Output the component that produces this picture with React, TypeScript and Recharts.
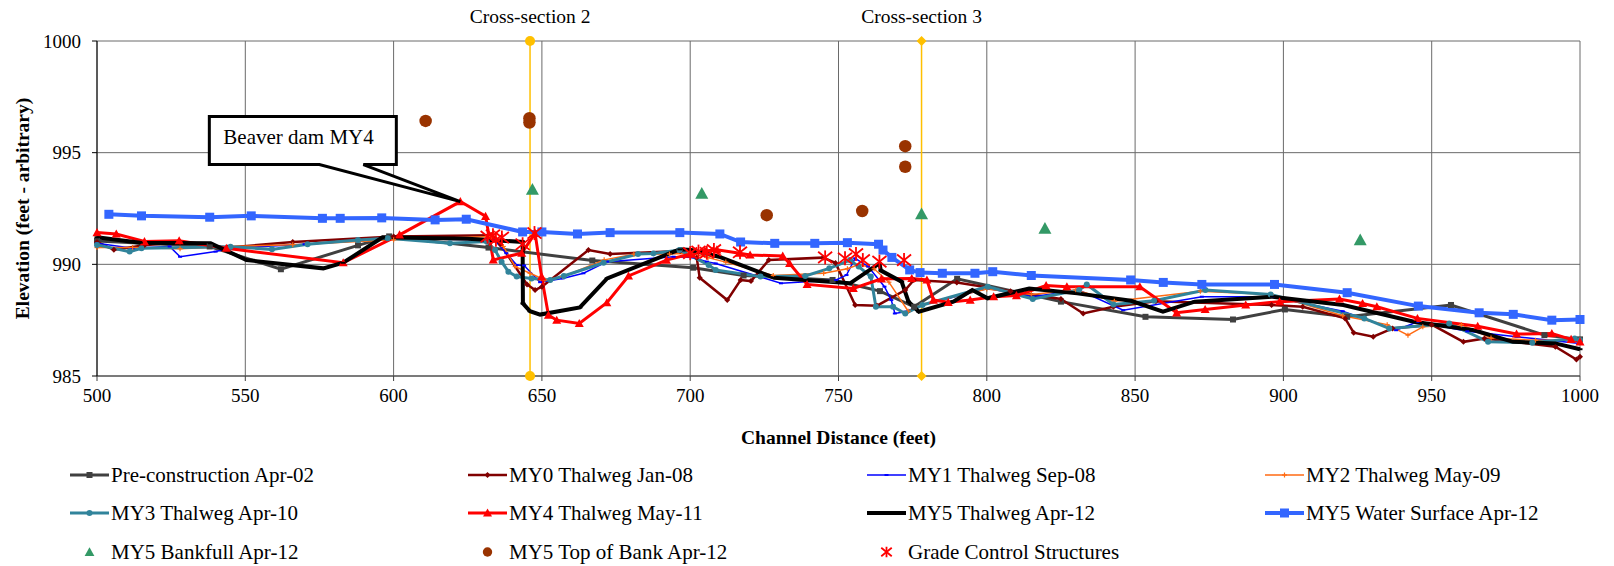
import React from 'react';
import {
  ComposedChart, Line, Scatter, XAxis, YAxis, CartesianGrid, ReferenceLine, ReferenceDot,
} from 'recharts';

const FONT = '"Liberation Serif", "Times New Roman", serif';

type Pair = [number, number];

// axis ticks
const xTicks = [500, 550, 600, 650, 700, 750, 800, 850, 900, 950, 1000];
const yTicks = [985, 990, 995, 1000];

// [channel distance, elevation]
const preConstruction: Pair[] = [
  [500, 991.05], [538, 990.8], [562, 989.78], [588, 990.85], [598.5, 991.25], [632, 990.75],
  [667, 990.17], [701, 989.85], [718, 989.5], [748, 989.3], [764, 988.8], [775.5, 988.1],
  [790, 989.35], [825, 988.33], [853.5, 987.65], [883, 987.53], [900.5, 987.98], [921.5, 987.65],
  [956.5, 988.18], [988, 986.83], [1000, 986.64],
];

const my0: Pair[] = [
  [500, 991.0], [505.7, 990.65], [516, 990.85], [528, 991.0], [544, 990.75], [566, 991.0],
  [600, 991.25], [633, 991.3], [636, 990.9], [645, 989.1], [647.7, 988.85], [650, 989.0],
  [665.7, 990.64], [673, 990.46], [696.6, 990.6], [702.2, 990.3], [703.2, 989.4], [712.5, 988.4],
  [717, 989.3], [720.5, 989.25], [726.5, 990.19], [744.8, 990.3], [749, 990.06], [755.6, 988.18],
  [763, 988.15], [772.5, 988.85], [775.4, 989.3], [789.9, 989.19], [808, 988.8], [825, 988.45],
  [832.5, 987.8], [842.7, 988.1], [857, 988.35], [896, 988.18], [906.5, 988.1], [920.8, 987.58],
  [923.7, 986.94], [930.3, 986.76], [936.8, 987.13], [950, 987.3], [960.7, 986.53], [967.8, 986.68],
  [991.7, 986.31], [998.8, 985.74], [1000, 985.86],
];

const my1: Pair[] = [
  [500, 990.94], [512, 990.72], [524.5, 990.8], [528, 990.34], [540, 990.57], [545, 990.72],
  [570, 990.9], [598, 991.15], [634, 991.1], [638, 990.5], [641.5, 989.97], [644, 989.95],
  [649.4, 989.2], [657, 989.37], [664, 989.6], [672, 990.12], [694.4, 990.34], [701, 990.31],
  [705.6, 990.12], [708.6, 990.04], [730.6, 989.15], [749.2, 989.3], [752.7, 989.52], [755.6, 990.27],
  [760, 989.9], [765.5, 989.0], [767.8, 988.4], [769, 987.8], [772.5, 987.88], [778.3, 988.18],
  [800.3, 988.92], [815.5, 988.55], [831, 988.85], [846, 987.95], [872.5, 988.55], [896.3, 988.55],
  [920, 987.9], [938, 987.05], [945.2, 987.43], [962, 987.0], [978.6, 986.76], [1000, 986.46],
];

const my2: Pair[] = [
  [500, 990.75], [512, 990.75], [528, 990.7], [545, 990.8], [566, 990.88], [600, 991.1],
  [633, 991.25], [637, 990.8], [641, 989.9], [646, 989.6], [651, 989.3], [657, 989.45],
  [671, 990.2], [681, 990.45], [693, 990.46], [700, 990.5], [706, 990.3], [712, 990.1],
  [728, 989.5], [745, 989.6], [753, 989.8], [757, 990.0], [762, 989.8], [767, 989.2],
  [773.5, 987.9], [778, 988.2], [800, 988.9], [815, 988.65], [830, 988.85], [843, 988.35],
  [872, 988.8], [896, 988.65], [920, 987.7], [935, 987.3], [942, 986.83], [947, 987.2],
  [960, 987.3], [970, 986.7], [985, 986.6], [1000, 986.6],
];

const my3: Pair[] = [
  [500, 990.87], [511, 990.57], [515, 990.72], [545, 990.79], [559, 990.67], [571, 990.9],
  [588, 991.09], [598, 991.17], [619, 990.94], [631.4, 991.02], [634.2, 990.64], [636.4, 990.12],
  [638.7, 989.67], [641.5, 989.45], [646.5, 989.37], [652.8, 989.3], [657.4, 989.48], [670.8, 990.07],
  [682.4, 990.46], [687.6, 990.49], [696.4, 990.64], [706.2, 989.97], [708.6, 989.75], [723.7, 989.45],
  [738.8, 989.48], [746.9, 989.82], [753.9, 990.19], [756.8, 989.9], [760.9, 989.45], [762.6, 988.1],
  [768.4, 988.1], [772.5, 987.8], [778.3, 988.18], [800.3, 989.0], [815.5, 988.45], [831.1, 988.85],
  [833.7, 989.1], [842.7, 988.2], [856.4, 988.37], [873.7, 988.85], [895.7, 988.65], [927.3, 987.58],
  [935.7, 987.13], [955.9, 987.35], [969, 986.53], [983.9, 986.49], [998.2, 986.68], [1000, 986.6],
];

const my4: Pair[] = [
  [500, 991.42], [506.5, 991.36], [516, 991.02], [527.7, 991.06], [543.6, 990.72], [583, 990.07],
  [602, 991.32], [622.5, 992.81], [631, 992.15], [633.6, 990.2], [643.2, 990.5], [647.7, 991.39],
  [649.9, 989.45], [652.2, 987.73], [655, 987.5], [662.6, 987.35], [671.9, 988.28], [679.2, 989.48],
  [692, 990.19], [700, 990.46], [705, 990.6], [709, 990.65], [716.7, 990.5], [720.2, 990.42],
  [731.2, 990.37], [733.5, 990.04], [739.4, 989.1], [755, 988.92], [764.5, 989.35], [774.7, 989.37],
  [779.8, 989.3], [782, 988.4], [787, 988.3], [794.4, 988.4], [802.3, 988.55], [810, 988.6],
  [820, 989.05], [827, 989.0], [851.6, 989.0], [864, 987.83], [873.6, 987.98], [887.3, 988.18],
  [898.7, 988.33], [918.9, 988.45], [926.7, 988.25], [931.5, 988.1], [945.2, 987.58], [965.5, 987.23],
  [978.6, 986.88], [990.5, 986.9], [997, 986.64], [1000, 986.53],
];

const my5: Pair[] = [
  [500, 991.21], [514.6, 990.97], [538.3, 990.94], [550.4, 990.19], [576.3, 989.82], [583, 990.07],
  [596.3, 991.21], [625, 991.15], [643.5, 991.0], [643.6, 988.25], [646, 987.9], [649.4, 987.75],
  [662.8, 988.07], [672, 989.37], [696.5, 990.67], [700.4, 990.64], [709.7, 990.34], [728.3, 989.4],
  [753.9, 989.15], [763.8, 990.04], [764.3, 989.72], [771.3, 989.22], [773.6, 988.33], [777.1, 987.88],
  [788.7, 988.33], [795.1, 988.85], [800.3, 988.48], [814.3, 988.92], [830.5, 988.7], [848.6, 988.37],
  [859.4, 987.88], [870.1, 988.33], [896.3, 988.55], [920.2, 988.18], [944, 987.43], [964.3, 987.05],
  [977.4, 986.53], [991.7, 986.46], [1000, 986.2],
];

const waterSurface: Pair[] = [
  [504, 992.24], [515, 992.17], [538, 992.11], [552, 992.17], [576, 992.06], [582, 992.06],
  [596, 992.08], [614, 991.99], [624.5, 992.02], [643.5, 991.45], [650, 991.45], [662, 991.36],
  [673, 991.42], [696.5, 991.42], [710, 991.36], [717, 991.0], [728.5, 990.94], [742, 990.94],
  [753, 990.97], [763.5, 990.9], [765, 990.64], [768, 990.31], [774, 989.75], [777.5, 989.63],
  [785, 989.6], [796, 989.6], [802, 989.67], [815, 989.5], [848.5, 989.3], [859.5, 989.19],
  [872.5, 989.1], [897, 989.1], [921.5, 988.73], [945.5, 988.13], [966, 987.83], [977.5, 987.76],
  [990.5, 987.5], [1000, 987.53],
];

const bankfull: Pair[] = [
  [646.8, 993.35], [703.9, 993.17], [778, 992.25], [819.6, 991.6], [925.9, 991.09],
];

const topOfBank: Pair[] = [
  [610.8, 996.42], [645.8, 996.54], [645.8, 996.35], [725.8, 992.2], [758, 992.39],
  [772.5, 995.29], [772.5, 994.37],
];

const gradeControl: Pair[] = [
  [631.7, 991.24], [633.5, 991.3], [634.5, 991.1], [636.5, 991.2], [643.5, 990.9], [647.5, 991.4],
  [700, 990.5], [702.8, 990.57], [705.6, 990.52], [708, 990.64], [716.8, 990.54], [745.5, 990.31],
  [752.2, 990.27], [755.9, 990.46], [758.2, 990.19], [763.8, 990.12], [772.1, 990.19],
];

// cross-section stations and beaver dam peak
const crossSection2: Pair[] = [[646, 985], [646, 1000]];
const crossSection3: Pair[] = [[778, 985], [778, 1000]];
const beaverDam: Pair = [622.5, 992.81];

const toPts = (arr: Pair[]) => arr.map(([x, y]) => ({ x, y }));

type MarkerKind = 'square' | 'diamond' | 'dash' | 'plus' | 'circle' | 'triangle' | 'star' | 'none';

function drawMarker(kind: MarkerKind, cx: number, cy: number, size: number, color: string, key?: string) {
  const h = size / 2;
  if (cx == null || cy == null || isNaN(cx) || isNaN(cy)) return <g key={key} />;
  switch (kind) {
    case 'square':
      return <rect key={key} x={cx - h} y={cy - h} width={size} height={size} fill={color} />;
    case 'diamond':
      return <path key={key} d={`M${cx},${cy - h}L${cx + h},${cy}L${cx},${cy + h}L${cx - h},${cy}Z`} fill={color} />;
    case 'triangle':
      return <path key={key} d={`M${cx},${cy - h}L${cx + h},${cy + h * 0.8}L${cx - h},${cy + h * 0.8}Z`} fill={color} />;
    case 'circle':
      return <circle key={key} cx={cx} cy={cy} r={h} fill={color} />;
    case 'dash':
      return <line key={key} x1={cx - h} y1={cy} x2={cx + h} y2={cy} stroke={color} strokeWidth={2} />;
    case 'plus':
      return (
        <g key={key} stroke={color} strokeWidth={1.2}>
          <line x1={cx - h} y1={cy} x2={cx + h} y2={cy} />
          <line x1={cx} y1={cy - h} x2={cx} y2={cy + h} />
        </g>
      );
    case 'star':
      return (
        <g key={key} stroke={color} strokeWidth={1.8}>
          <line x1={cx} y1={cy - h} x2={cx} y2={cy + h} />
          <line x1={cx - h} y1={cy - h * 0.8} x2={cx + h} y2={cy + h * 0.8} />
          <line x1={cx - h} y1={cy + h * 0.8} x2={cx + h} y2={cy - h * 0.8} />
        </g>
      );
    default:
      return <g key={key} />;
  }
}

interface LineSeries { name: string; data: Pair[]; color: string; width: number; marker: MarkerKind; size: number }
interface PointSeries { name: string; data: Pair[]; color: string; marker: MarkerKind; size: number }

const lineSeries: LineSeries[] = [
  { name: 'Pre-construction Apr-02', data: preConstruction, color: '#404040', width: 3, marker: 'square', size: 6 },
  { name: 'MY0 Thalweg Jan-08', data: my0, color: '#800000', width: 2.5, marker: 'diamond', size: 6 },
  { name: 'MY1 Thalweg Sep-08', data: my1, color: '#0000FF', width: 1.5, marker: 'dash', size: 4 },
  { name: 'MY2 Thalweg May-09', data: my2, color: '#FF6A13', width: 1.5, marker: 'plus', size: 5 },
  { name: 'MY3 Thalweg Apr-10', data: my3, color: '#31849B', width: 3, marker: 'circle', size: 6 },
  { name: 'MY4 Thalweg May-11', data: my4, color: '#FF0000', width: 3, marker: 'triangle', size: 9 },
  { name: 'MY5 Thalweg Apr-12', data: my5, color: '#000000', width: 4, marker: 'dash', size: 5 },
  { name: 'MY5 Water Surface Apr-12', data: waterSurface, color: '#3366FF', width: 4, marker: 'square', size: 9 },
];

const pointSeries: PointSeries[] = [
  { name: 'MY5 Bankfull Apr-12', data: bankfull, color: '#339966', marker: 'triangle', size: 13 },
  { name: 'MY5 Top of Bank Apr-12', data: topOfBank, color: '#993300', marker: 'circle', size: 12.5 },
  { name: 'Grade Control Structures', data: gradeControl, color: '#FF0000', marker: 'star', size: 14 },
];

const legendOrder: string[] = [
  'Pre-construction Apr-02', 'MY0 Thalweg Jan-08', 'MY1 Thalweg Sep-08', 'MY2 Thalweg May-09',
  'MY3 Thalweg Apr-10', 'MY4 Thalweg May-11', 'MY5 Thalweg Apr-12', 'MY5 Water Surface Apr-12',
  'MY5 Bankfull Apr-12', 'MY5 Top of Bank Apr-12', 'Grade Control Structures',
];

const CHART_W = 1614;
const CHART_H = 566;
const legendCols = [70, 468, 867, 1265];
const legendRows = [475, 513, 552];

const Callout = (props: any) => {
  const { cx, cy } = props;
  if (cx == null || cy == null) return null;
  const d = `M${cx - 251},${cy - 85} H${cx - 64} V${cy - 37} H${cx - 97} L${cx},${cy} L${cx - 141},${cy - 37} H${cx - 251} Z`;
  return (
    <g>
      <path d={d} fill="#fff" stroke="#000" strokeWidth={3} strokeLinejoin="miter" />
      <text x={cx - 237} y={cy - 65} dominantBaseline="central" fontSize={21} fontFamily={FONT} fill="#000">
        Beaver dam MY4
      </text>
    </g>
  );
};

const XTitle = (props: any) => {
  const { viewBox } = props;
  return (
    <text x={viewBox.x + viewBox.width / 2} y={437} textAnchor="middle" dominantBaseline="central"
      fontSize={19.5} fontWeight="bold" fontFamily={FONT} fill="#000">
      Channel Distance (feet)
    </text>
  );
};

const YTitle = (props: any) => {
  const { viewBox } = props;
  const cx = 22;
  const cy = viewBox.y + viewBox.height / 2;
  return (
    <text x={cx} y={cy} transform={`rotate(-90 ${cx} ${cy})`} textAnchor="middle" dominantBaseline="central"
      fontSize={19.5} fontWeight="bold" fontFamily={FONT} fill="#000">
      Elevation (feet - arbitrary)
    </text>
  );
};

const Legend = () => (
  <svg width={CHART_W} height={CHART_H} style={{ position: 'absolute', left: 0, top: 0, pointerEvents: 'none' }}>
    {legendOrder.map((name, i) => {
      const x = legendCols[i % 4];
      const y = legendRows[Math.floor(i / 4)];
      const ls = lineSeries.find((s) => s.name === name);
      const ps = pointSeries.find((s) => s.name === name);
      return (
        <g key={name}>
          {ls && <line x1={x} y1={y} x2={x + 39} y2={y} stroke={ls.color} strokeWidth={ls.width} />}
          {ls && drawMarker(ls.marker, x + 19.5, y, ls.size, ls.color)}
          {ps && drawMarker(ps.marker, x + 19.5, y, ps.size * 0.75, ps.color)}
          <text x={x + 41} y={y} dominantBaseline="central" fontSize={21} fontFamily={FONT} fill="#000">{name}</text>
        </g>
      );
    })}
  </svg>
);

const tickStyle = { fontSize: 19, fontFamily: FONT, fill: '#000' };

export default function App() {
  return (
    <div style={{ position: 'absolute', left: 0, top: 0, width: CHART_W, height: CHART_H, background: '#fff' }}>
      <ComposedChart width={CHART_W} height={CHART_H} margin={{ top: 41, right: 34, bottom: 110, left: 0 }}>
        <CartesianGrid stroke="#6a6a6a" strokeWidth={1} />
        <XAxis
          dataKey="x" type="number" domain={[500, 1000]} ticks={xTicks} interval={0}
          height={80} tickSize={5} tickMargin={8} tick={tickStyle}
          axisLine={{ stroke: '#404040' }} tickLine={{ stroke: '#404040' }}
          label={<XTitle />}
        />
        <YAxis
          dataKey="y" type="number" domain={[985, 1000]} ticks={yTicks} interval={0}
          width={97} tickSize={5} tickMargin={11} tick={tickStyle}
          axisLine={{ stroke: '#000' }} tickLine={{ stroke: '#000' }}
          label={<YTitle />}
        />
        <ReferenceLine x={crossSection2[0][0]} stroke="#FFC000" strokeWidth={1.5}
          label={{ value: 'Cross-section 2', position: 'top', offset: 18, fontSize: 19.5, fontFamily: FONT, fill: '#000' }} />
        <ReferenceLine x={crossSection3[0][0]} stroke="#FFC000" strokeWidth={1.5}
          label={{ value: 'Cross-section 3', position: 'top', offset: 18, fontSize: 19.5, fontFamily: FONT, fill: '#000' }} />
        <Scatter data={toPts(crossSection2)} dataKey="y" isAnimationActive={false} legendType="none"
          shape={(p: any) => drawMarker('circle', p.cx, p.cy, 10, '#FFC000')} />
        <Scatter data={toPts(crossSection3)} dataKey="y" isAnimationActive={false} legendType="none"
          shape={(p: any) => drawMarker('diamond', p.cx, p.cy, 10, '#FFC000')} />
        {lineSeries.map((s) => (
          <Line
            key={s.name}
            data={toPts(s.data)}
            dataKey="y"
            name={s.name}
            type="linear"
            stroke={s.color}
            strokeWidth={s.width}
            isAnimationActive={false}
            activeDot={false}
            legendType="none"
            dot={(p: any) => drawMarker(s.marker, p.cx, p.cy, s.size, s.color, `${s.name}-${p.index}`)}
          />
        ))}
        {pointSeries.map((s) => (
          <Scatter
            key={s.name}
            data={toPts(s.data)}
            dataKey="y"
            name={s.name}
            isAnimationActive={false}
            legendType="none"
            shape={(p: any) => drawMarker(s.marker, p.cx, p.cy, s.size, s.color)}
          />
        ))}
        <ReferenceDot x={beaverDam[0]} y={beaverDam[1]} r={0} shape={<Callout />} />
      </ComposedChart>
      <Legend />
    </div>
  );
}
